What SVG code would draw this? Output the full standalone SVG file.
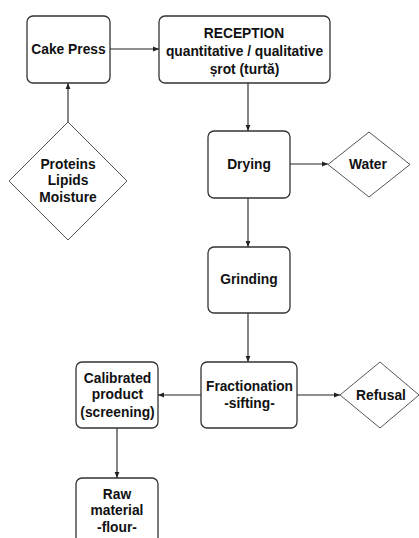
<svg xmlns="http://www.w3.org/2000/svg" width="419" height="538" viewBox="0 0 419 538">
<defs>
<marker id="ah" viewBox="0 0 10 10" refX="10" refY="5" markerWidth="6" markerHeight="6" markerUnits="userSpaceOnUse" orient="auto">
<path d="M0,1 L10,5 L0,9 z" fill="#222"/>
</marker>
</defs>
<style>
.box{fill:#fff;stroke:#333;stroke-width:1.3}
.dia{fill:#fff;stroke:#555;stroke-width:1}
.t{font-family:"Liberation Sans",Arial,sans-serif;font-weight:bold;font-size:13.8px;fill:#111;text-anchor:middle}
.c{stroke:#222;stroke-width:1.1;fill:none;marker-end:url(#ah)}
</style>
<rect width="419" height="538" fill="#fff"/>
<g id="connectors">
<line class="c" x1="110" y1="49" x2="159" y2="49"/>
<line class="c" x1="68" y1="122" x2="68" y2="83"/>
<line class="c" x1="248" y1="83" x2="248" y2="131"/>
<line class="c" x1="290" y1="164" x2="328" y2="164"/>
<line class="c" x1="248" y1="198" x2="248" y2="247"/>
<line class="c" x1="248" y1="313" x2="248" y2="362"/>
<line class="c" x1="297" y1="395" x2="340" y2="395"/>
<line class="c" x1="201" y1="395" x2="158" y2="395"/>
<line class="c" x1="117" y1="428" x2="117" y2="478"/>
</g>
<g id="cake-press">
<rect class="box" x="27" y="16" width="83" height="67" rx="6"/>
<text class="t" x="68.5" y="54">Cake Press</text>
</g>
<g id="reception">
<rect class="box" x="159" y="16" width="171" height="67" rx="6"/>
<text class="t" x="244" y="37.5">RECEPTION</text>
<text class="t" x="244.5" y="55.5">quantitative / qualitative</text>
<text class="t" x="244.5" y="74">șrot (turtă)</text>
</g>
<g id="proteins">
<polygon class="dia" points="68,122 127,181 68,240 9,181"/>
<text class="t" x="68" y="169">Proteins</text>
<text class="t" x="68" y="185">Lipids</text>
<text class="t" x="68" y="202">Moisture</text>
</g>
<g id="drying">
<rect class="box" x="208" y="131" width="82" height="67" rx="6"/>
<text class="t" x="249" y="168.5">Drying</text>
</g>
<g id="water">
<polygon class="dia" points="369,132 410,164.5 369,197 328,164.5"/>
<text class="t" x="368" y="169">Water</text>
</g>
<g id="grinding">
<rect class="box" x="208" y="247" width="82" height="66" rx="6"/>
<text class="t" x="249" y="283.5">Grinding</text>
</g>
<g id="fractionation">
<rect class="box" x="201" y="362" width="96" height="66" rx="6"/>
<text class="t" x="249.5" y="391" textLength="87" lengthAdjust="spacingAndGlyphs">Fractionation</text>
<text class="t" x="249.5" y="407.5">-sifting-</text>
</g>
<g id="refusal">
<polygon class="dia" points="380,362 419,395 380,428 340,395"/>
<text class="t" x="381" y="400">Refusal</text>
</g>
<g id="calibrated">
<rect class="box" x="76" y="362" width="82" height="66" rx="6"/>
<text class="t" x="117.5" y="383">Calibrated</text>
<text class="t" x="117.5" y="399">product</text>
<text class="t" x="117.5" y="416.5">(screening)</text>
</g>
<g id="raw-material">
<rect class="box" x="76" y="478" width="82" height="80" rx="6"/>
<text class="t" x="117" y="498.5">Raw</text>
<text class="t" x="117" y="515">material</text>
<text class="t" x="117" y="532">-flour-</text>
</g>
</svg>
